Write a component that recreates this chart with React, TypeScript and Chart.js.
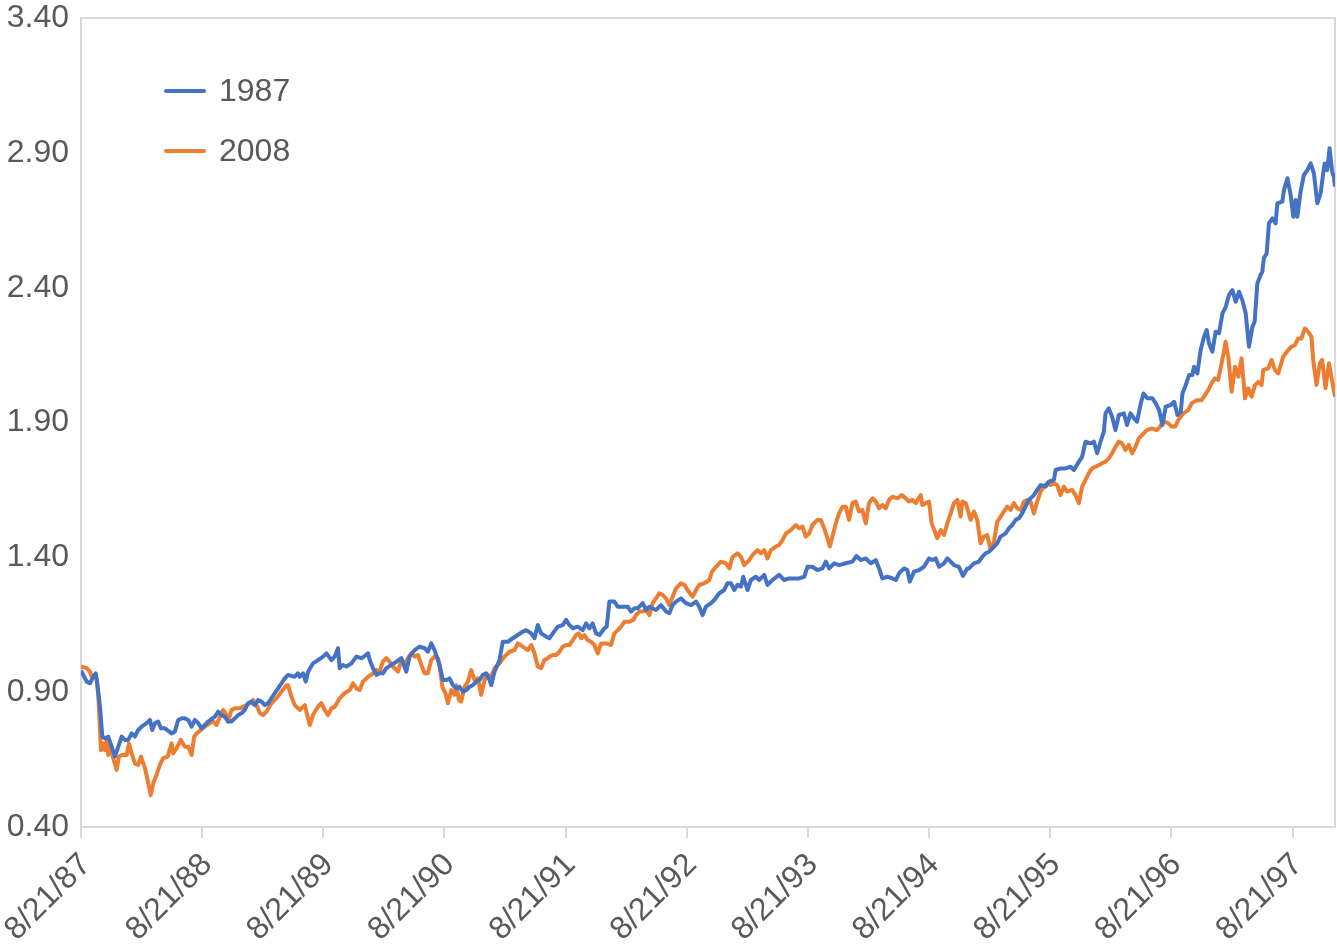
import { useEffect, useRef } from "react";
import { Chart, registerables } from "chart.js";

Chart.register(...registerables);

// x positions are years elapsed since 8/21/87
const xTickValues = [0, 1, 2, 3, 4, 5, 6, 7, 8, 9, 10];
const xTickLabels = ["8/21/87", "8/21/88", "8/21/89", "8/21/90", "8/21/91", "8/21/92", "8/21/93", "8/21/94", "8/21/95", "8/21/96", "8/21/97"];
const yTickValues = [0.4, 0.9, 1.4, 1.9, 2.4, 2.9, 3.4];
const xMax = 10.35;

const seriesNames = ["1987", "2008"];

const t1987 = [
  0, 0.047, 0.074, 0.101, 0.121, 0.134, 0.157, 0.176, 0.198, 0.225, 0.253, 0.280, 0.308, 0.336, 0.363, 0.390, 0.418, 0.445, 0.472, 0.500, 0.542, 0.569, 0.588, 0.610, 0.637, 0.660, 0.692, 0.748, 0.775, 0.802, 0.830, 0.857, 0.885, 0.913, 0.940, 0.967, 0.995, 1.049, 1.105, 1.132, 1.160, 1.187, 1.214, 1.242, 1.270, 1.297, 1.325, 1.352, 1.379, 1.407, 1.434, 1.462, 1.490, 1.517, 1.544, 1.599, 1.655, 1.682, 1.709, 1.764, 1.789,
  1.805, 1.833, 1.855, 1.874, 1.915, 1.956, 1.998, 2.026, 2.067, 2.094, 2.121, 2.135, 2.162, 2.190, 2.232, 2.273, 2.314, 2.341, 2.369, 2.383, 2.410, 2.438, 2.465, 2.492, 2.520, 2.561, 2.603, 2.644, 2.685, 2.712, 2.754, 2.795, 2.836, 2.863, 2.891, 2.918, 2.959, 2.987, 3.015, 3.042, 3.069, 3.097, 3.124, 3.152, 3.180, 3.207, 3.234, 3.262, 3.289, 3.317, 3.345, 3.372, 3.386, 3.413, 3.454, 3.481, 3.523, 3.564, 3.605, 3.646, 3.674, 3.716, 3.743, 3.770, 3.798, 3.839, 3.866,
  3.894, 3.935, 3.976, 4.004, 4.031, 4.059, 4.100, 4.141, 4.169, 4.196, 4.223, 4.251, 4.279, 4.320, 4.339, 4.361, 4.402, 4.430, 4.471, 4.512, 4.540, 4.567, 4.594, 4.636, 4.664, 4.691, 4.746, 4.787, 4.829, 4.856, 4.883, 4.911, 4.952, 4.993, 5.035, 5.076, 5.103, 5.130, 5.158, 5.200, 5.227, 5.268, 5.309, 5.336, 5.364, 5.392, 5.419, 5.447, 5.466, 5.501, 5.529, 5.570, 5.597,
  5.639, 5.666, 5.707, 5.762, 5.804, 5.845, 5.886, 5.927, 5.969, 5.996, 6.037, 6.078, 6.120, 6.148, 6.175, 6.216, 6.257, 6.312, 6.367, 6.400, 6.436, 6.477, 6.519, 6.560, 6.587, 6.614, 6.655, 6.697, 6.725, 6.752, 6.793, 6.820, 6.840, 6.876, 6.917, 6.958, 6.999, 7.026, 7.054, 7.082, 7.123, 7.150, 7.178, 7.205, 7.246, 7.279, 7.315,
  7.329, 7.370, 7.411, 7.438, 7.466, 7.494, 7.521, 7.562, 7.590, 7.631, 7.659, 7.686, 7.714, 7.741, 7.768, 7.796, 7.823, 7.865, 7.892, 7.920, 7.961, 7.988, 8.030, 8.044, 8.085, 8.126, 8.167, 8.195, 8.236, 8.263, 8.291, 8.332, 8.360, 8.387, 8.415, 8.442, 8.456, 8.483, 8.510, 8.538, 8.566, 8.607, 8.634, 8.662, 8.689, 8.716,
  8.747, 8.769, 8.802, 8.843, 8.871, 8.898, 8.926, 8.953, 8.995, 9.022, 9.050, 9.077, 9.091, 9.118, 9.146, 9.173, 9.186, 9.214, 9.241, 9.269, 9.291, 9.310, 9.338, 9.365, 9.393, 9.421, 9.448, 9.475, 9.503, 9.530, 9.558, 9.585, 9.613, 9.640, 9.668, 9.687, 9.709, 9.736, 9.750, 9.763, 9.786, 9.805, 9.833, 9.860, 9.874, 9.915, 9.929, 9.957, 9.984, 10.006, 10.025, 10.039, 10.066, 10.093, 10.122, 10.149, 10.176, 10.204, 10.231, 10.264, 10.286, 10.305, 10.327, 10.34, 10.35,
];
const v1987 = [
  0.98, 0.939, 0.933, 0.957, 0.970, 0.933, 0.846, 0.735, 0.729, 0.735, 0.698, 0.661, 0.698, 0.735, 0.723, 0.723, 0.747, 0.735, 0.760, 0.772, 0.785, 0.797, 0.760, 0.785, 0.791, 0.766, 0.766, 0.747, 0.754, 0.797, 0.803, 0.803, 0.797, 0.772, 0.797, 0.785, 0.766, 0.791, 0.809, 0.828, 0.815, 0.809, 0.791, 0.791, 0.803, 0.815, 0.822, 0.834, 0.859, 0.865, 0.852, 0.871, 0.865, 0.852, 0.859, 0.896, 0.933, 0.951, 0.964, 0.957, 0.970,
  0.957, 0.970, 0.939, 0.976, 1.007, 1.019, 1.032, 1.044, 1.019, 1.032, 1.063, 0.989, 1.001, 0.995, 1.007, 1.032, 1.026, 1.034, 1.044, 1.019, 0.989, 0.964, 0.970, 0.970, 0.989, 1.001, 1.013, 1.026, 0.976, 1.032, 1.056, 1.069, 1.063, 1.050, 1.081, 1.056, 1.001, 0.945, 0.945, 0.951, 0.926, 0.914, 0.920, 0.902, 0.908, 0.920, 0.926, 0.939, 0.945, 0.964, 0.970, 0.945, 0.926, 0.976, 1.019, 1.087, 1.087, 1.100, 1.112, 1.124, 1.130, 1.118, 1.100, 1.149, 1.118, 1.106, 1.100,
  1.118, 1.143, 1.149, 1.168, 1.149, 1.137, 1.143, 1.130, 1.155, 1.137, 1.155, 1.118, 1.112, 1.137, 1.143, 1.236, 1.236, 1.217, 1.217, 1.217, 1.199, 1.211, 1.211, 1.230, 1.205, 1.217, 1.205, 1.223, 1.199, 1.193, 1.223, 1.236, 1.248, 1.230, 1.223, 1.236, 1.217, 1.186, 1.217, 1.230, 1.242, 1.267, 1.279, 1.304, 1.304, 1.279, 1.298, 1.291, 1.328, 1.279, 1.316, 1.328, 1.316,
  1.335, 1.298, 1.316, 1.335, 1.316, 1.322, 1.322, 1.322, 1.328, 1.365, 1.365, 1.353, 1.359, 1.384, 1.359, 1.378, 1.371, 1.378, 1.384, 1.405, 1.390, 1.396, 1.378, 1.390, 1.359, 1.322, 1.328, 1.322, 1.316, 1.341, 1.359, 1.353, 1.310, 1.347, 1.353, 1.365, 1.396, 1.390, 1.396, 1.365, 1.378, 1.396, 1.384, 1.371, 1.365, 1.331, 1.359,
  1.359, 1.378, 1.384, 1.402, 1.415, 1.421, 1.433, 1.452, 1.477, 1.489, 1.508, 1.520, 1.539, 1.545, 1.563, 1.588, 1.613, 1.631, 1.650, 1.668, 1.662, 1.681, 1.687, 1.724, 1.730, 1.730, 1.736, 1.724, 1.755, 1.773, 1.829, 1.823, 1.829, 1.786, 1.829, 1.866, 1.934, 1.953, 1.922, 1.872, 1.928, 1.934, 1.891, 1.934, 1.916, 1.903,
  1.971, 2.008, 1.990, 1.990, 1.971, 1.946, 1.891, 1.959, 1.965, 1.977, 1.928, 1.940, 2.008, 2.039, 2.076, 2.076, 2.107, 2.082, 2.169, 2.218, 2.243, 2.194, 2.163, 2.237, 2.231, 2.305, 2.329, 2.373, 2.391, 2.348, 2.385, 2.354, 2.305, 2.181, 2.255, 2.274, 2.416, 2.447, 2.459, 2.509, 2.527, 2.639, 2.657, 2.639, 2.713, 2.719, 2.762, 2.806, 2.744, 2.663, 2.725, 2.663, 2.756, 2.818, 2.836, 2.861, 2.824, 2.713, 2.750, 2.861, 2.836, 2.917, 2.830, 2.812, 2.775,
];

const t2008 = [
  0, 0.047, 0.074, 0.088, 0.115, 0.129, 0.143, 0.165, 0.184, 0.198, 0.212, 0.225, 0.247, 0.266, 0.294, 0.313, 0.336, 0.377, 0.396, 0.418, 0.445, 0.472, 0.495, 0.528, 0.550, 0.575, 0.596, 0.624, 0.651, 0.678, 0.715, 0.748, 0.761, 0.789, 0.824, 0.857, 0.885, 0.913, 0.934, 0.954, 0.989, 1.022, 1.063, 1.091, 1.119, 1.146, 1.173, 1.201, 1.214, 1.242, 1.270, 1.311, 1.338, 1.366, 1.393, 1.421, 1.449, 1.476, 1.503, 1.531, 1.572, 1.613, 1.655, 1.696, 1.709, 1.737, 1.764, 1.792,
  1.805, 1.847, 1.888, 1.915, 1.956, 1.984, 2.012, 2.039, 2.067, 2.094, 2.135, 2.176, 2.218, 2.245, 2.273, 2.300, 2.327, 2.369, 2.410, 2.438, 2.465, 2.492, 2.520, 2.547, 2.575, 2.616, 2.644, 2.671, 2.698, 2.726, 2.754, 2.781, 2.809, 2.836, 2.863, 2.891, 2.918, 2.946, 2.959, 2.982, 3.009, 3.028, 3.056, 3.083, 3.097, 3.119, 3.138, 3.166, 3.193, 3.221, 3.248, 3.276, 3.303, 3.331, 3.358, 3.386, 3.413, 3.454, 3.495, 3.537, 3.578, 3.605, 3.646, 3.688, 3.716, 3.743, 3.770, 3.798, 3.825, 3.853,
  3.866, 3.894, 3.922, 3.949, 3.976, 4.004, 4.031, 4.059, 4.087, 4.108, 4.128, 4.155, 4.182, 4.210, 4.237, 4.265, 4.293, 4.334, 4.375, 4.402, 4.430, 4.458, 4.485, 4.526, 4.559, 4.581, 4.609, 4.636, 4.664, 4.691, 4.718, 4.746, 4.773, 4.800, 4.829, 4.856, 4.883, 4.911, 4.952, 4.980, 5.015, 5.048, 5.076, 5.103, 5.144, 5.186, 5.208, 5.241, 5.282, 5.323, 5.351, 5.378, 5.419, 5.447,
  5.474, 5.515, 5.543, 5.584, 5.612, 5.639, 5.666, 5.694, 5.735, 5.762, 5.790, 5.818, 5.859, 5.900, 5.927, 5.955, 5.982, 6.010, 6.037, 6.078, 6.106, 6.134, 6.161, 6.181, 6.202, 6.230, 6.257, 6.285, 6.312, 6.339, 6.367, 6.395, 6.422, 6.449, 6.477, 6.504, 6.532, 6.560, 6.587, 6.614, 6.642, 6.669, 6.697, 6.738, 6.774, 6.807, 6.834, 6.862, 6.890, 6.931, 6.944, 6.972, 6.999, 7.021, 7.048, 7.067, 7.096, 7.123, 7.150, 7.178, 7.205, 7.233, 7.260, 7.274, 7.302,
  7.343, 7.370, 7.397, 7.425, 7.452, 7.480, 7.508, 7.535, 7.562, 7.590, 7.617, 7.645, 7.673, 7.700, 7.727, 7.755, 7.783, 7.810, 7.837, 7.865, 7.892, 7.920, 7.947, 7.975, 8.002, 8.030, 8.057, 8.085, 8.112, 8.139, 8.181, 8.208, 8.236, 8.263, 8.291, 8.318, 8.345, 8.373, 8.401, 8.428, 8.456, 8.483, 8.510, 8.538, 8.566, 8.593, 8.621, 8.648, 8.676, 8.703, 8.731,
  8.797, 8.838, 8.879, 8.907, 8.920, 8.948, 8.975, 9.002, 9.030, 9.057, 9.098, 9.139, 9.167, 9.208, 9.249, 9.277, 9.304, 9.331, 9.359, 9.386, 9.414, 9.436, 9.447, 9.469, 9.497, 9.525, 9.552, 9.579, 9.607, 9.634, 9.662, 9.690, 9.717, 9.744, 9.758, 9.799, 9.826, 9.854, 9.881, 9.922, 9.964, 9.991, 10.019, 10.046, 10.073, 10.101, 10.128, 10.156, 10.170, 10.197, 10.225, 10.244, 10.272, 10.300, 10.35,
];
const v2008 = [
  0.995, 0.989, 0.976, 0.957, 0.964, 0.951, 0.883, 0.685, 0.710, 0.685, 0.723, 0.667, 0.698, 0.655, 0.612, 0.661, 0.667, 0.667, 0.710, 0.673, 0.636, 0.630, 0.661, 0.618, 0.574, 0.518, 0.562, 0.593, 0.630, 0.655, 0.661, 0.710, 0.673, 0.692, 0.723, 0.698, 0.698, 0.667, 0.735, 0.747, 0.760, 0.772, 0.785, 0.791, 0.778, 0.809, 0.834, 0.815, 0.791, 0.834, 0.840, 0.840, 0.846, 0.852, 0.859, 0.871, 0.852, 0.822, 0.815, 0.828, 0.859, 0.877, 0.902, 0.926, 0.926, 0.883, 0.852, 0.840,
  0.834, 0.852, 0.778, 0.815, 0.846, 0.859, 0.834, 0.815, 0.840, 0.846, 0.877, 0.896, 0.908, 0.933, 0.914, 0.908, 0.939, 0.957, 0.970, 0.982, 0.976, 1.013, 1.026, 1.013, 0.995, 0.976, 1.019, 1.007, 1.026, 1.044, 1.032, 1.038, 1.001, 0.970, 0.970, 1.019, 1.032, 1.026, 1.001, 0.921, 0.896, 0.859, 0.908, 0.890, 0.926, 0.871, 0.865, 0.920, 0.939, 0.982, 0.945, 0.951, 0.890, 0.945, 0.964, 0.957, 0.989, 1.007, 1.032, 1.050, 1.056, 1.081, 1.069, 1.056, 1.075, 1.044, 0.995, 0.989, 1.019, 1.026,
  1.032, 1.038, 1.038, 1.050, 1.069, 1.075, 1.075, 1.093, 1.112, 1.118, 1.100, 1.112, 1.093, 1.087, 1.075, 1.044, 1.081, 1.081, 1.075, 1.118, 1.130, 1.143, 1.161, 1.161, 1.168, 1.186, 1.199, 1.199, 1.205, 1.186, 1.230, 1.248, 1.267, 1.261, 1.248, 1.223, 1.254, 1.285, 1.304, 1.298, 1.273, 1.254, 1.279, 1.298, 1.304, 1.316, 1.347, 1.365, 1.384, 1.378, 1.359, 1.402, 1.415, 1.402,
  1.371, 1.390, 1.409, 1.427, 1.415, 1.427, 1.396, 1.427, 1.440, 1.446, 1.464, 1.489, 1.501, 1.520, 1.508, 1.514, 1.477, 1.489, 1.520, 1.539, 1.539, 1.508, 1.471, 1.440, 1.477, 1.526, 1.563, 1.588, 1.588, 1.539, 1.601, 1.607, 1.570, 1.576, 1.526, 1.601, 1.619, 1.607, 1.582, 1.594, 1.582, 1.613, 1.625, 1.619, 1.631, 1.619, 1.607, 1.613, 1.601, 1.631, 1.594, 1.601, 1.607, 1.526, 1.495, 1.471, 1.501, 1.483, 1.526, 1.563, 1.601, 1.613, 1.551, 1.607, 1.601,
  1.539, 1.570, 1.539, 1.452, 1.477, 1.483, 1.427, 1.458, 1.532, 1.551, 1.570, 1.588, 1.576, 1.601, 1.582, 1.576, 1.607, 1.613, 1.607, 1.563, 1.607, 1.644, 1.662, 1.675, 1.668, 1.675, 1.668, 1.631, 1.662, 1.644, 1.650, 1.631, 1.601, 1.662, 1.687, 1.712, 1.730, 1.736, 1.742, 1.749, 1.755, 1.767, 1.786, 1.810, 1.829, 1.823, 1.798, 1.817, 1.786, 1.810, 1.841,
  1.872, 1.878, 1.872, 1.885, 1.897, 1.903, 1.897, 1.885, 1.885, 1.909, 1.934, 1.946, 1.971, 1.983, 1.983, 2.002, 2.021, 2.045, 2.064, 2.058, 2.120, 2.169, 2.200, 2.144, 2.014, 2.107, 2.070, 2.138, 1.990, 2.027, 1.996, 2.039, 2.051, 2.039, 2.095, 2.101, 2.132, 2.095, 2.082, 2.144, 2.169, 2.181, 2.187, 2.212, 2.212, 2.249, 2.237, 2.218, 2.132, 2.039, 2.120, 2.132, 2.027, 2.120, 1.996,
];

const BLUE = "#4472C4";
const ORANGE = "#ED7D31";
const TEXT = "#595959";
const AXIS = "#d9d9d9";
const FONT = "'Liberation Sans', Arial, Helvetica, sans-serif";
const FONT_SIZE = 32;

function toPoints(ts: number[], vs: number[]) {
  const n = Math.min(ts.length, vs.length);
  const out: { x: number; y: number }[] = [];
  for (let i = 0; i < n; i++) out.push({ x: ts[i], y: vs[i] });
  return out;
}

export default function App() {
  const ref = useRef<HTMLCanvasElement>(null);

  useEffect(() => {
    if (!ref.current) return;

    const framePlugin = {
      id: "frame",
      beforeDatasetsDraw(chart: any) {
        const { ctx, chartArea } = chart;
        ctx.save();
        ctx.strokeStyle = AXIS;
        ctx.lineWidth = 2;
        ctx.beginPath();
        ctx.moveTo(chartArea.left, chartArea.top);
        ctx.lineTo(chartArea.right, chartArea.top);
        ctx.lineTo(chartArea.right, chartArea.bottom);
        ctx.stroke();
        ctx.restore();
      },
    };

    const legendPlugin = {
      id: "insideLegend",
      afterDraw(chart: any) {
        const { ctx, chartArea } = chart;
        ctx.save();
        chart.data.datasets.forEach((ds: any, i: number) => {
          const y = chartArea.top + 73 + i * 60;
          const x0 = chartArea.left + 85;
          ctx.strokeStyle = ds.borderColor;
          ctx.lineWidth = 4;
          ctx.lineCap = "round";
          ctx.beginPath();
          ctx.moveTo(x0, y);
          ctx.lineTo(x0 + 38, y);
          ctx.stroke();
          ctx.fillStyle = TEXT;
          ctx.font = `${FONT_SIZE}px ${FONT}`;
          ctx.textAlign = "left";
          ctx.textBaseline = "middle";
          ctx.fillText(ds.label, x0 + 53, y + 1);
        });
        ctx.restore();
      },
    };

    const chart = new Chart(ref.current, {
      type: "line",
      data: {
        datasets: [
          {
            label: seriesNames[0],
            data: toPoints(t1987, v1987),
            borderColor: BLUE,
            backgroundColor: BLUE,
            borderWidth: 4,
            pointRadius: 0,
            tension: 0,
            borderJoinStyle: "round",
          },
          {
            label: seriesNames[1],
            data: toPoints(t2008, v2008),
            borderColor: ORANGE,
            backgroundColor: ORANGE,
            borderWidth: 4,
            pointRadius: 0,
            tension: 0,
            borderJoinStyle: "round",
          },
        ],
      },
      options: {
        responsive: false,
        animation: false,
        layout: { padding: { left: 0, right: 2, top: 0, bottom: 0 } },
        plugins: {
          legend: { display: false },
          tooltip: { enabled: false },
        },
        scales: {
          x: {
            type: "linear",
            min: 0,
            max: xMax,
            afterBuildTicks: (scale: any) => {
              scale.ticks = xTickValues.map((v) => ({ value: v }));
            },
            afterFit: (scale: any) => {
              scale.height = 123;
              scale.paddingLeft = 0;
              scale.paddingRight = 0;
            },
            ticks: {
              autoSkip: false,
              minRotation: 45,
              maxRotation: 45,
              padding: 8,
              labelOffset: 5,
              color: TEXT,
              font: { size: FONT_SIZE, family: FONT },
              callback: (_v: any, i: number) => xTickLabels[i],
            },
            grid: {
              drawOnChartArea: false,
              drawTicks: true,
              tickLength: 11,
              color: AXIS,
              lineWidth: 2,
            },
            border: { color: AXIS, width: 2 },
          },
          y: {
            type: "linear",
            min: 0.4,
            max: 3.4,
            afterBuildTicks: (scale: any) => {
              scale.ticks = yTickValues.map((v) => ({ value: v }));
            },
            afterFit: (scale: any) => {
              scale.width = 81;
            },
            ticks: {
              padding: 12,
              color: TEXT,
              font: { size: FONT_SIZE, family: FONT, lineHeight: 0.38 },
              callback: (v: any) => Number(v).toFixed(2),
            },
            grid: { display: false, drawTicks: false },
            border: { color: AXIS, width: 2 },
          },
        },
      },
      plugins: [framePlugin, legendPlugin],
    });

    return () => chart.destroy();
  }, []);

  return (
    <div style={{ position: "fixed", left: 0, top: 0, width: 1337, height: 950, background: "#fff" }}>
      <canvas ref={ref} width={1337} height={950} style={{ display: "block" }} />
    </div>
  );
}
